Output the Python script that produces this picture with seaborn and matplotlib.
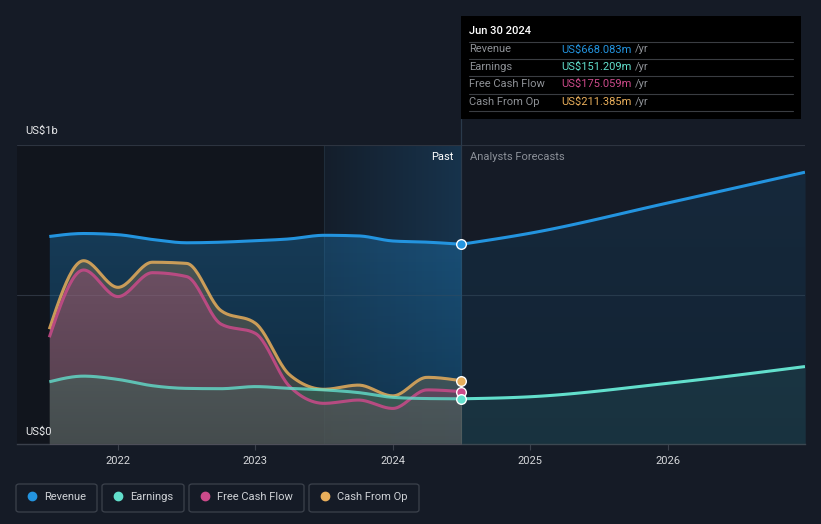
"""Revenue / earnings / cash flow history and forecast, dark dashboard style."""

import numpy as np
import matplotlib
matplotlib.use("Agg")
import matplotlib.pyplot as plt
import seaborn as sns
from matplotlib.patches import Rectangle, FancyBboxPatch
from matplotlib.lines import Line2D

# quarterly history (US$ m, trailing twelve months)
past_x   = [2021.5, 2021.75, 2022.0, 2022.25, 2022.5, 2022.75, 2023.0,
            2023.25, 2023.5, 2023.75, 2024.0, 2024.25, 2024.5]
revenue  = [694, 704, 700, 684, 673, 675, 680, 686, 698, 696, 679, 675, 668.083]
earnings = [208, 227, 216, 195, 186, 185, 192, 186, 181, 172, 156, 152, 151.209]
fcf      = [357, 582, 493, 573, 560, 401, 370, 192, 136, 147, 119, 181, 175.059]
cfo      = [384, 613, 524, 608, 604, 446, 404, 231, 183, 197, 161, 223, 211.385]

# analyst forecasts
fc_x        = [2024.5, 2025.0, 2026.0, 2027.0]
fc_revenue  = [668.083, 705, 806, 909]
fc_earnings = [151.209, 158, 203, 259]

year_ticks  = [2022, 2023, 2024, 2025, 2026]
year_labels = ["2022", "2023", "2024", "2025", "2026"]

BG       = "#151b26"
C_REV    = "#2394df"
C_EARN   = "#62dfcc"
C_FCF    = "#cc4a8a"
C_CFO    = "#e8ae5b"

W, H = 821, 524
X0, X1 = 2021.25, 2027.0


def smooth(x, y, n=24):
    """Monotone cubic path through the points (same idea as d3 curveMonotoneX)."""
    x = np.asarray(x, float); y = np.asarray(y, float)
    h = np.diff(x); d = np.diff(y) / h
    m = np.zeros_like(y)
    for i in range(1, len(x) - 1):
        s0, s1 = d[i - 1], d[i]
        p = (s0 * h[i] + s1 * h[i - 1]) / (h[i - 1] + h[i])
        m[i] = (np.sign(s0) + np.sign(s1)) * min(abs(s0), abs(s1), 0.5 * abs(p))
    m[0] = (3 * d[0] - m[1]) / 2 if len(x) > 2 else d[0]
    m[-1] = (3 * d[-1] - m[-2]) / 2 if len(x) > 2 else d[-1]
    xs, ys = [], []
    for i in range(len(h)):
        t = np.linspace(0, 1, n, endpoint=(i == len(h) - 1))
        h00 = 2 * t**3 - 3 * t**2 + 1; h10 = t**3 - 2 * t**2 + t
        h01 = -2 * t**3 + 3 * t**2;     h11 = t**3 - t**2
        xs.append(x[i] + t * h[i])
        ys.append(h00 * y[i] + h10 * h[i] * m[i] + h01 * y[i + 1] + h11 * h[i] * m[i + 1])
    return np.concatenate(xs), np.concatenate(ys)


def fx(px):
    return px / W


def fy(py):
    return 1 - py / H


def shade(ax, poly, strength, top):
    """Darken a filled area towards the baseline, like a vertical gradient fill."""
    g = np.zeros((256, 1, 4))
    g[:, 0, 3] = np.linspace(0, strength, 256)
    im = ax.imshow(g, extent=(X0, X1, 0, top), origin="upper", aspect="auto",
                   zorder=4.5)
    im.set_clip_path(poly.get_paths()[0], transform=ax.transData)


sns.set_theme(style="dark")
plt.rcParams["font.family"] = ["Roboto", "DejaVu Sans"]

fig = plt.figure(figsize=(W / 100, H / 100), dpi=100, facecolor=BG)
ax = fig.add_axes([fx(17), fy(444), fx(805) - fx(17), fy(145) - fy(444)])
ax.set_facecolor(BG)

# darker "past" zone and last-year highlight
ax.axvspan(X0, 2023.5, color="#11151d", zorder=0, lw=0)
grad = np.zeros((1, 256, 4))
c0 = np.array([20, 30, 43]) / 255
c1 = np.array([23, 51, 76]) / 255
for k in range(256):
    grad[0, k, :3] = c0 + (c1 - c0) * k / 255
    grad[0, k, 3] = 1
ax.imshow(grad, extent=(2023.5, 2024.5, 0, 1000), aspect="auto", zorder=0.5)
ax.axvline(2023.5, color="#1f2d3b", lw=0.8, zorder=0.6)

for v in (500, 1000):
    ax.axhline(v, color="#2d3440", lw=0.8, zorder=0.7)

# filled areas
rx, ry = smooth(past_x, revenue)
rev_fill = ax.fill_between(rx, 0, ry, color=C_REV, alpha=0.3, lw=0, zorder=1)
frx, fry = smooth(fc_x, fc_revenue)
fc_fill = ax.fill_between(frx, 0, fry, color=C_REV, alpha=0.12, lw=0, zorder=1)

cx, cy = smooth(past_x, cfo)
ax.fill_between(cx, 0, cy, color=C_CFO, alpha=0.25, lw=0, zorder=2)
px_, py_ = smooth(past_x, fcf)
ax.fill_between(px_, 0, py_, color=C_FCF, alpha=0.3, lw=0, zorder=3)
ex, ey = smooth(past_x, earnings)
ax.fill_between(ex, 0, ey, color="#468c72", alpha=0.4, lw=0, zorder=4)
fex, fey = smooth(fc_x, fc_earnings)
ax.fill_between(fex, 0, fey, color=C_EARN, alpha=0.1, lw=0, zorder=4)

shade(ax, rev_fill, 0.28, 720)
shade(ax, fc_fill, 0.15, 1000)

# lines
ax.plot(rx, ry, color=C_REV, lw=2.2, zorder=6, solid_capstyle="butt")
ax.plot(frx, fry, color=C_REV, lw=2.2, zorder=6, solid_capstyle="butt")
ax.plot(cx, cy, color=C_CFO, lw=2.2, alpha=0.85, zorder=6, solid_capstyle="butt")
ax.plot(px_, py_, color=C_FCF, lw=2.2, alpha=0.85, zorder=6, solid_capstyle="butt")
ax.plot(ex, ey, color=C_EARN, lw=2.2, alpha=0.8, zorder=7, solid_capstyle="butt")
ax.plot(fex, fey, color=C_EARN, lw=2.2, zorder=7, solid_capstyle="butt")

# end-of-history markers
for vals, col in ((revenue, C_REV), (cfo, C_CFO), (fcf, C_FCF), (earnings, C_EARN)):
    ax.scatter([past_x[-1]], [vals[-1]], s=48, color=col, edgecolor="white",
               linewidth=1.0, zorder=10)

ax.set_xlim(X0 + 0.015, X1)
ax.set_ylim(0, 1000)

# divider between past and forecasts, running up to the tooltip
ax.axvline(2024.5, ymin=0, ymax=(444 - 119) / 299, color="#2a3a4b", lw=0.9,
           zorder=0.8, clip_on=False)

ax.text(2024.5 - 0.06, 960, "Past", color="white", fontsize=8, ha="right",
        va="center", zorder=11)
ax.text(2024.5 + 0.06, 960, "Analysts Forecasts", color="#8b9098", fontsize=8,
        ha="left", va="center", zorder=11)

ax.set_xticks(year_ticks)
ax.set_xticklabels(year_labels)
ax.set_yticks([])
ax.tick_params(axis="x", colors="#3a404b", labelcolor="#d5d7da", labelsize=8,
               length=4, width=0.8, pad=5, bottom=True)
for s in ("top", "right", "left"):
    ax.spines[s].set_visible(False)
ax.spines["bottom"].set_color("#3a404b")
ax.spines["bottom"].set_linewidth(1)
ax.grid(False)

fig.text(fx(25), fy(131), "US$1b", color="#e8e9eb", fontsize=8, va="center")
fig.text(fx(25), fy(432), "US$0", color="#e8e9eb", fontsize=8, va="center",
         zorder=11)

# tooltip box
fig.patches.append(Rectangle((fx(461), fy(119)), fx(801) - fx(461), fy(16) - fy(119),
                             transform=fig.transFigure, facecolor="#000000",
                             edgecolor="none", zorder=5))
fig.text(fx(469), fy(31), "Jun 30 2024", color="white", fontsize=8, va="center",
         fontweight="medium", zorder=6)
rows = [("Revenue", revenue[-1], C_REV), ("Earnings", earnings[-1], C_EARN),
        ("Free Cash Flow", fcf[-1], C_FCF), ("Cash From Op", cfo[-1], C_CFO)]
for yy in [41.5, 58.5, 76, 93.5, 111]:
    fig.lines.append(Line2D([fx(469), fx(793)], [fy(yy), fy(yy)],
                            transform=fig.transFigure, color="#3a3d42", lw=0.8,
                            zorder=6))
for i, (name, val, col) in enumerate(rows):
    yc = 49.5 + i * 17.4
    fig.text(fx(469), fy(yc), name, color="#8e9196", fontsize=8, va="center", zorder=6)
    t = fig.text(fx(561), fy(yc), f"US${val:.3f}m", color=col, fontsize=8,
                 va="center", zorder=6)
    fig.canvas.draw()
    bb = t.get_window_extent()
    fig.text(bb.x1 / W + fx(4), fy(yc), "/yr", color="#8e9196", fontsize=8,
             va="center", zorder=6)

# legend chips
legend = [("Revenue", C_REV, 16, 97), ("Earnings", C_EARN, 102, 184),
          ("Free Cash Flow", C_FCF, 189, 304), ("Cash From Op", C_CFO, 309, 419)]
for name, col, x0, x1 in legend:
    fig.patches.append(FancyBboxPatch((fx(x0), fy(512)), fx(x1 - x0), fy(484) - fy(512),
                                      boxstyle="round,pad=0,rounding_size=0.004",
                                      transform=fig.transFigure, facecolor=BG,
                                      edgecolor="#3c424c", lw=0.9))
    fig.lines.append(Line2D([fx(x0 + 16)], [fy(496)], marker="o", markersize=6,
                            color=col, transform=fig.transFigure, lw=0))
    fig.text(fx(x0 + 28), fy(496.5), name, color="#cfd2d6", fontsize=8, va="center")

fig.savefig("out.png", dpi=100, facecolor=BG)
